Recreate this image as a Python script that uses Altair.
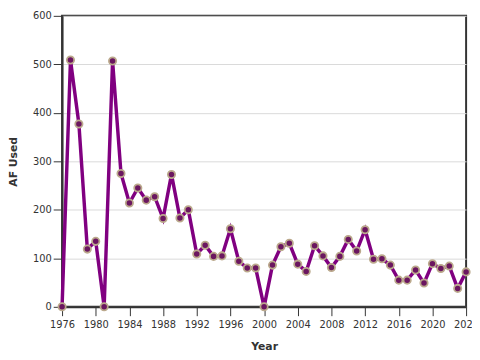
import altair as alt
import pandas as pd

years = list(range(1976, 2025))
af_used = [0, 509, 377, 119, 135, 0, 507, 275, 214, 245, 220, 227, 182, 273, 183, 200,
           109, 127, 104, 105, 161, 94, 80, 80, 0, 86, 124, 131, 88, 73, 126, 105, 81,
           104, 139, 115, 159, 98, 99, 86, 55, 55, 76, 49, 89, 79, 84, 38, 72]

df = pd.DataFrame({"Year": years, "AF Used": af_used})

x = alt.X("Year:Q", scale=alt.Scale(domain=[1976, 2024], nice=False, zero=False),
          axis=alt.Axis(format="d", values=list(range(1976, 2025, 4)), grid=False,
                        labelOverlap=False, labelFlush=False, title="Year"))
y = alt.Y("AF Used:Q", scale=alt.Scale(domain=[0, 600]),
          axis=alt.Axis(values=[0, 100, 200, 300, 400, 500, 600], labelOverlap=False,
                        title="AF Used"))

line = alt.Chart(df).mark_line(color="#800080", strokeWidth=3.5).encode(x=x, y=y)
pts = alt.Chart(df).mark_point(filled=True, fill="#6b1660", stroke="#bba98c",
                               strokeWidth=1.8, size=55, opacity=1).encode(x=x, y=y)

chart = (line + pts).properties(
    width=411, height=296,
    autosize=alt.AutoSizeParams(type="none"),
    padding={"left": 55, "top": 5, "right": 6, "bottom": 44},
).configure_view(
    stroke="#333333", strokeWidth=2
).configure_axis(
    domainColor="#333333", domainWidth=2, tickColor="#333333", tickSize=9,
    labelFont="DejaVu Sans", labelFontSize=10, labelColor="#333333",
    titleFont="DejaVu Sans", titleFontSize=11, titleColor="#333333",
    titleFontWeight="bold", gridColor="#d9d9d9"
).configure_axisX(labelPadding=4, titlePadding=11).configure_axisY(labelPadding=2, titlePadding=14)

chart.save("out.html", embed_options={"renderer": "svg", "actions": False})
